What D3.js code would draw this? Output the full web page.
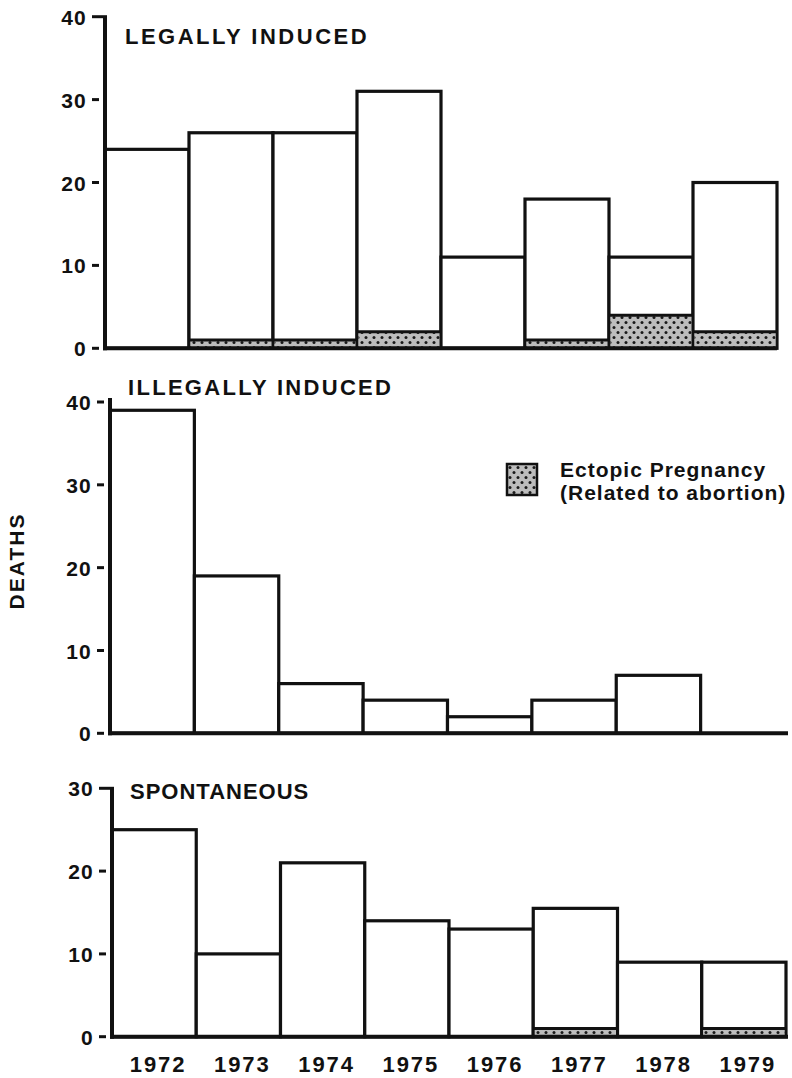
<!DOCTYPE html>
<html>
<head>
<meta charset="utf-8">
<script src="https://cdn.jsdelivr.net/npm/d3@7"></script>
<style>
  html, body { margin: 0; padding: 0; background: #fff; }
  svg { display: block; }
  text { font-family: "Liberation Sans", Arial, Helvetica, sans-serif; font-weight: bold; fill: #111; }
</style>
</head>
<body>
<svg id="chart" width="792" height="1078"></svg>
<script>
// Abortion-related deaths by year and type
const years = ["1972", "1973", "1974", "1975", "1976", "1977", "1978", "1979"];

const legalDeaths = [24, 26, 26, 31, 11, 18, 11, 20];
const legalEctopic = [0, 1, 1, 2, 0, 1, 4, 2];

const illegalDeaths = [39, 19, 6, 4, 2, 4, 7, 0];
const illegalEctopic = [0, 0, 0, 0, 0, 0, 0, 0];

const spontaneousDeaths = [25, 10, 21, 14, 13, 15.5, 9, 9];
const spontaneousEctopic = [0, 0, 0, 0, 0, 1, 0, 1];

const ticks40 = [0, 10, 20, 30, 40];
const ticks30 = [0, 10, 20, 30];

const panelTitles = ["LEGALLY INDUCED", "ILLEGALLY INDUCED", "SPONTANEOUS"];
const yAxisTitle = "DEATHS";
const legendLines = ["Ectopic Pregnancy", "(Related to abortion)"];

const svg = d3.select("#chart");
const INK = "#111";

// stippled fill for the ectopic share
const defs = svg.append("defs");
const pat = defs.append("pattern")
  .attr("id", "stipple")
  .attr("patternUnits", "userSpaceOnUse")
  .attr("width", 8).attr("height", 10);
pat.append("rect").attr("width", 8).attr("height", 10).attr("fill", "#bdbdbd");
pat.append("circle").attr("cx", 2).attr("cy", 2.5).attr("r", 1.5).attr("fill", "#1a1a1a");
pat.append("circle").attr("cx", 6).attr("cy", 7.5).attr("r", 1.5).attr("fill", "#1a1a1a");

const panels = [
  { title: panelTitles[0], total: legalDeaths, ectopic: legalEctopic, ticks: ticks40, max: 40,
    left: 105, right: 777, base: 348.3, top: 16.7, lineEnd: 777,
    titleX: 125, titleY: 44, titleLs: 2.5, topTickJoined: true, axisOver: 0 },
  { title: panelTitles[1], total: illegalDeaths, ectopic: illegalEctopic, ticks: ticks40, max: 40,
    left: 110, right: 785, base: 733.3, top: 402, lineEnd: 788,
    titleX: 128, titleY: 395, titleLs: 2.3, topTickJoined: false, axisOver: 4 },
  { title: panelTitles[2], total: spontaneousDeaths, ectopic: spontaneousEctopic, ticks: ticks30, max: 30,
    left: 112, right: 786, base: 1036.7, top: 788.3, lineEnd: 788,
    titleX: 130, titleY: 799, titleLs: 1, topTickJoined: true, axisOver: 0 }
];

panels.forEach((p, pi) => {
  const g = svg.append("g");
  const x = d3.scaleBand().domain(years).range([p.left, p.right]).padding(0);
  const y = d3.scaleLinear().domain([0, p.max]).range([p.base, p.top]);

  const rows = years.map((yr, i) => ({ year: yr, total: p.total[i], ectopic: p.ectopic[i] }));

  // outlined bars
  g.selectAll("rect.bar")
    .data(rows.filter(d => d.total > 0))
    .join("rect")
    .attr("class", "bar")
    .attr("x", d => x(d.year))
    .attr("width", x.bandwidth())
    .attr("y", d => y(d.total))
    .attr("height", d => y(0) - y(d.total))
    .attr("fill", "#fff")
    .attr("stroke", INK)
    .attr("stroke-width", 3.2);

  // stippled ectopic portion at the foot of each bar
  g.selectAll("rect.ecto")
    .data(rows.filter(d => d.ectopic > 0))
    .join("rect")
    .attr("class", "ecto")
    .attr("x", d => x(d.year) + 1.6)
    .attr("width", x.bandwidth() - 3.2)
    .attr("y", d => y(d.ectopic))
    .attr("height", d => y(0) - y(d.ectopic))
    .attr("fill", "url(#stipple)")
    .attr("stroke", "none");
  g.selectAll("line.ectoTop")
    .data(rows.filter(d => d.ectopic > 0))
    .join("line")
    .attr("class", "ectoTop")
    .attr("x1", d => x(d.year))
    .attr("x2", d => x(d.year) + x.bandwidth())
    .attr("y1", d => y(d.ectopic))
    .attr("y2", d => y(d.ectopic))
    .attr("stroke", INK)
    .attr("stroke-width", 3);

  // baseline
  g.append("line")
    .attr("x1", p.left - 2).attr("x2", p.lineEnd)
    .attr("y1", y(0)).attr("y2", y(0))
    .attr("stroke", INK).attr("stroke-width", 4);

  // vertical axis: labels from d3.axisLeft, dash ticks drawn beside the rule
  const axis = d3.axisLeft(y).tickValues(p.ticks).tickSize(0).tickPadding(18).tickFormat(d3.format("d"));
  const ag = g.append("g").attr("transform", `translate(${p.left},0)`).call(axis);
  ag.select(".domain").remove();
  ag.selectAll("text")
    .attr("font-size", 21)
    .attr("letter-spacing", 1.2)
    .attr("font-family", "Liberation Sans, Arial, sans-serif")
    .attr("font-weight", "bold")
    .attr("fill", INK)
    .attr("dy", "0.36em");

  g.append("line")
    .attr("x1", p.left).attr("x2", p.left)
    .attr("y1", y(0) + 2).attr("y2", y(p.max) - p.axisOver)
    .attr("stroke", INK).attr("stroke-width", 4);

  g.selectAll("line.dash")
    .data(p.ticks)
    .join("line")
    .attr("class", "dash")
    .attr("x1", p.left - 13)
    .attr("x2", d => (p.topTickJoined && d === p.max) ? p.left + 2 : p.left - 6)
    .attr("y1", d => y(d)).attr("y2", d => y(d))
    .attr("stroke", INK)
    .attr("stroke-width", 3);

  // panel title
  g.append("text")
    .attr("x", p.titleX).attr("y", p.titleY)
    .attr("font-size", 22)
    .attr("letter-spacing", p.titleLs)
    .text(p.title);

  // year labels under the last panel
  if (pi === panels.length - 1) {
    g.selectAll("text.year")
      .data(years)
      .join("text")
      .attr("class", "year")
      .attr("x", d => x(d) + x.bandwidth() / 2 + 4)
      .attr("y", 1072)
      .attr("text-anchor", "middle")
      .attr("font-size", 22)
      .attr("letter-spacing", 2)
      .text(d => d);
  }
});

// shared y-axis title
svg.append("text")
  .attr("transform", "translate(24,561) rotate(-90)")
  .attr("text-anchor", "middle")
  .attr("font-size", 21)
  .attr("letter-spacing", 2)
  .text(yAxisTitle);

// legend
const lg = svg.append("g");
lg.append("rect")
  .attr("x", 507).attr("y", 464)
  .attr("width", 30).attr("height", 31)
  .attr("fill", "url(#stipple)")
  .attr("stroke", INK).attr("stroke-width", 2.5);
lg.selectAll("text")
  .data(legendLines)
  .join("text")
  .attr("x", 560)
  .attr("y", (d, i) => 477 + i * 23)
  .attr("font-size", 21)
  .attr("letter-spacing", 1)
  .text(d => d);
</script>
</body>
</html>
